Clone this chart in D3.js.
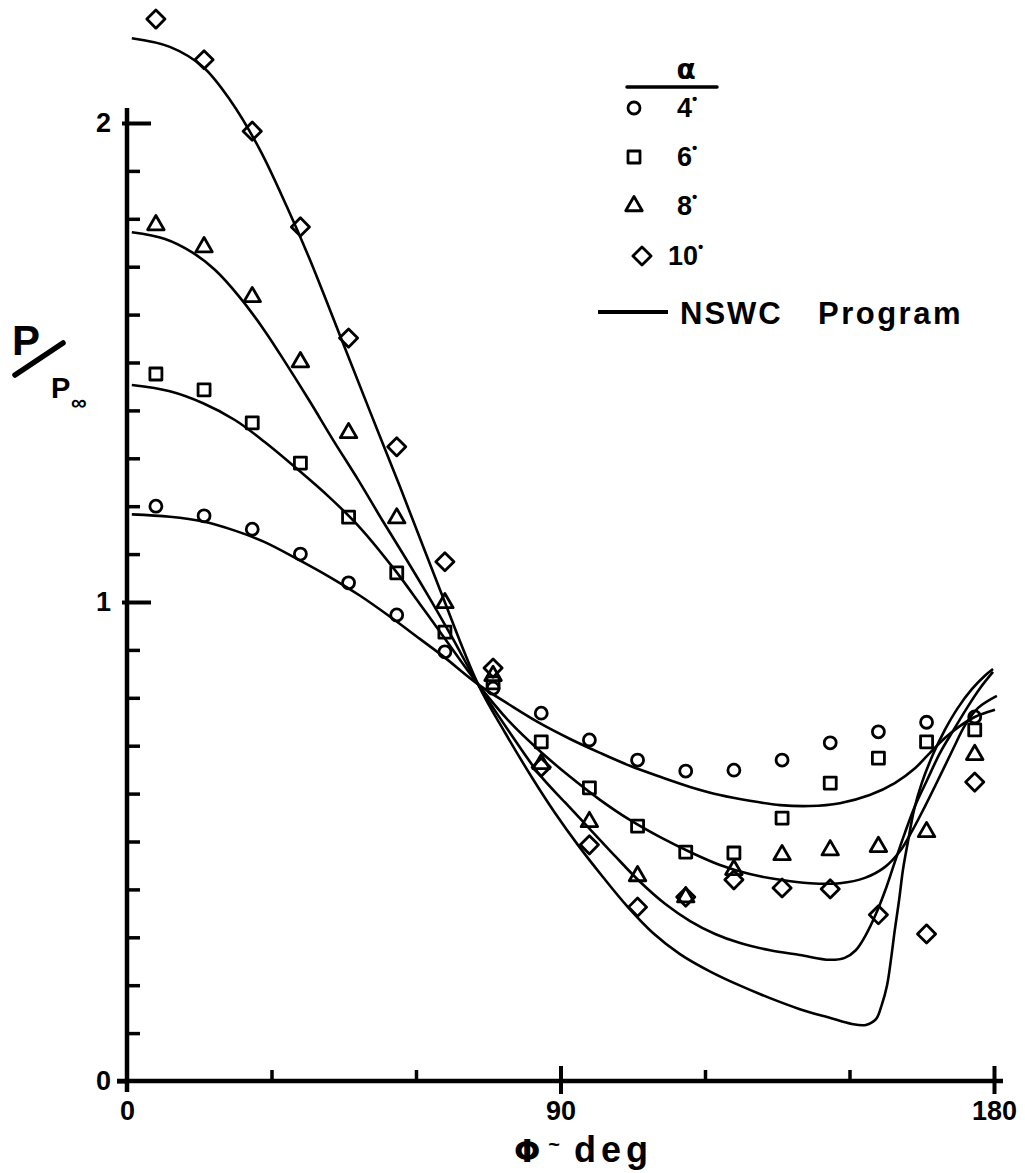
<!DOCTYPE html>
<html>
<head>
<meta charset="utf-8">
<script src="https://cdn.jsdelivr.net/npm/d3@7"></script>
<style>
  body { margin: 0; background: #fff; }
  svg { display: block; }
  text { font-family: "Liberation Sans", Arial, sans-serif; font-weight: bold; fill: #000; }
</style>
</head>
<body>
<div id="scene"></div>
<script>
// test points, p/p_inf vs phi (deg), one list per angle of attack
var phiPts = [6, 16, 26, 36, 46, 56, 66, 76, 86, 96, 106, 116, 126, 136, 146, 156, 166, 176];
var p4  = [1.200, 1.180, 1.152, 1.100, 1.040, 0.973, 0.896, 0.820, 0.768, 0.712, 0.670, 0.647, 0.649, 0.670, 0.706, 0.729, 0.749, 0.760];
var p6  = [1.476, 1.443, 1.374, 1.290, 1.177, 1.061, 0.937, 0.831, 0.708, 0.612, 0.532, 0.478, 0.476, 0.549, 0.622, 0.674, 0.708, 0.733];
var p8  = [1.787, 1.741, 1.637, 1.501, 1.353, 1.175, 0.998, 0.846, 0.662, 0.541, 0.428, 0.384, 0.441, 0.472, 0.482, 0.489, 0.520, 0.681];
var p10 = [2.217, 2.132, 1.983, 1.783, 1.551, 1.324, 1.084, 0.862, 0.655, 0.493, 0.363, 0.384, 0.420, 0.403, 0.401, 0.347, 0.307, 0.624];

// NSWC program curves
var curve4Phi = [1, 8.9, 15.8, 22.4, 28.6, 35.3, 42.1, 48.4, 55.2, 60.8, 65.6, 72.9, 79.5, 85.7, 92.0, 98.2, 104.4, 110.7, 116.9, 123.1, 129.3, 135.6, 141.8, 148.0, 154.2, 159.4, 163.6, 166.7, 169.8, 172.9, 176.0, 180.2];
var curve4P   = [1.183, 1.178, 1.168, 1.149, 1.125, 1.090, 1.052, 1.013, 0.965, 0.923, 0.887, 0.828, 0.785, 0.747, 0.714, 0.685, 0.658, 0.635, 0.614, 0.597, 0.585, 0.576, 0.574, 0.580, 0.597, 0.622, 0.653, 0.685, 0.716, 0.741, 0.760, 0.775];
var curve6Phi = [1, 8.9, 15.8, 22.4, 28.6, 35.3, 42.1, 48.4, 55.6, 60.8, 65.6, 72.9, 79.5, 85.7, 92.0, 98.2, 104.4, 110.7, 116.9, 123.1, 129.3, 135.6, 141.8, 148.0, 153.2, 157.4, 160.5, 163.0, 165.7, 168.8, 171.5, 174.0, 176.7, 180.6];
var curve6P   = [1.453, 1.440, 1.415, 1.380, 1.334, 1.278, 1.218, 1.155, 1.067, 0.996, 0.929, 0.828, 0.749, 0.689, 0.635, 0.587, 0.545, 0.509, 0.478, 0.451, 0.432, 0.420, 0.413, 0.413, 0.424, 0.447, 0.480, 0.522, 0.574, 0.637, 0.693, 0.743, 0.779, 0.804];
var curve8Phi = [1, 7.9, 13.7, 18.3, 23.5, 28.6, 33.2, 38.0, 42.8, 48.0, 53.1, 57.7, 62.3, 67.5, 72.9, 79.5, 85.7, 90.9, 96.1, 101.3, 106.5, 111.7, 116.9, 122.1, 127.3, 133.5, 139.7, 145.9, 149.0, 151.3, 153.4, 155.5, 157.6, 159.4, 161.5, 163.6, 166.1, 168.8, 171.5, 174.4, 177.1, 179.8];
var curve8P   = [1.772, 1.758, 1.729, 1.693, 1.635, 1.566, 1.495, 1.418, 1.338, 1.255, 1.169, 1.094, 1.017, 0.926, 0.828, 0.727, 0.639, 0.582, 0.526, 0.470, 0.416, 0.370, 0.334, 0.307, 0.288, 0.273, 0.263, 0.253, 0.257, 0.273, 0.305, 0.349, 0.403, 0.457, 0.518, 0.574, 0.628, 0.685, 0.731, 0.779, 0.820, 0.854];
var curve10Phi = [1, 8.9, 15.8, 21.4, 27.6, 33.2, 38.0, 44.2, 50.4, 56.7, 65.0, 72.9, 78.5, 84.3, 88.9, 93.6, 98.8, 104.0, 109.2, 114.8, 121.0, 127.3, 133.5, 139.7, 145.9, 150.5, 153.4, 155.5, 156.7, 157.8, 158.6, 159.4, 160.3, 161.1, 162.2, 163.4, 165.0, 167.3, 169.8, 172.5, 175.4, 178.1, 179.8];
var curve10P   = [2.177, 2.159, 2.117, 2.048, 1.944, 1.825, 1.714, 1.557, 1.399, 1.240, 1.025, 0.828, 0.727, 0.630, 0.559, 0.493, 0.426, 0.363, 0.309, 0.265, 0.229, 0.199, 0.173, 0.150, 0.132, 0.119, 0.117, 0.129, 0.159, 0.200, 0.253, 0.315, 0.378, 0.441, 0.503, 0.566, 0.622, 0.681, 0.733, 0.779, 0.818, 0.846, 0.860];

var alphaLabels = ["4", "6", "8", "10"];
var xMajorTicks = [0, 90, 180];
var xMinorTicks = [30, 60, 120, 150];
var yMajorTicks = [0, 1, 2];
var yMinorTicks = [0.1, 0.2, 0.3, 0.4, 0.5, 0.6, 0.7, 0.8, 0.9, 1.1, 1.2, 1.3, 1.4, 1.5, 1.6, 1.7, 1.8, 1.9];

var ctx = {
  w: 1025,
  h: 1173,
  x0: 127,
  x1: 994,
  y0: 1081,
  y1: 123,
};

var markerPath = function(shape) {
  switch(shape) {
    case "circle":
      return d3.symbol(d3.symbolCircle, Math.PI * 36)();
    case "square":
      return d3.symbol(d3.symbolSquare, 144)();
    case "triangle":
      return d3.symbol(d3.symbolTriangle, 118)();
    case "diamond":
      return d3.symbol(d3.symbolSquare, 165)();
  }
};

var markerRot = function(shape) {
  return shape == "diamond" ? " rotate(45)" : "";
};

var createScene = function() {
  var svg = d3.select("#scene").append("svg")
    .attr("width", ctx.w)
    .attr("height", ctx.h);

  var x = d3.scaleLinear().domain([0, 180]).range([ctx.x0, ctx.x1]);
  var y = d3.scaleLinear().domain([0, 2]).range([ctx.y0, ctx.y1]);

  var series = [
    {label: alphaLabels[0], phi: curve4Phi, p: curve4P, pts: p4, shape: "circle"},
    {label: alphaLabels[1], phi: curve6Phi, p: curve6P, pts: p6, shape: "square"},
    {label: alphaLabels[2], phi: curve8Phi, p: curve8P, pts: p8, shape: "triangle"},
    {label: alphaLabels[3], phi: curve10Phi, p: curve10P, pts: p10, shape: "diamond"},
  ];

  /******** axes ********/
  // y axis: minor ticks point inward, majors cross the line
  var gyMinor = svg.append("g")
    .attr("transform", "translate(" + x(0) + ",0)")
    .call(d3.axisLeft(y).tickValues(yMinorTicks).tickSize(-13).tickFormat(""));
  gyMinor.select(".domain").remove();
  gyMinor.selectAll(".tick line").attr("stroke-width", 3.5);

  var gyMajor = svg.append("g")
    .attr("transform", "translate(" + x(0) + ",0)")
    .call(d3.axisLeft(y).tickValues(yMajorTicks).tickSize(-24).tickPadding(16).tickFormat(d3.format("d")));
  gyMajor.select(".domain").remove();
  gyMajor.selectAll(".tick line")
    .attr("stroke-width", 4)
    .attr("x1", function(d) { return d == 0 ? -10 : -5; })
    .attr("x2", function(d) { return d == 0 ? 0 : 24; });
  gyMajor.selectAll(".tick text").style("font-size", "27px").style("font-family", "Liberation Sans");

  var gxMinor = svg.append("g")
    .attr("transform", "translate(0," + y(0) + ")")
    .call(d3.axisBottom(x).tickValues(xMinorTicks).tickSize(-11).tickFormat(""));
  gxMinor.select(".domain").remove();
  gxMinor.selectAll(".tick line").attr("stroke-width", 3.5);

  var gxMajor = svg.append("g")
    .attr("transform", "translate(0," + y(0) + ")")
    .call(d3.axisBottom(x).tickValues(xMajorTicks).tickSize(12).tickPadding(8).tickFormat(d3.format("d")));
  gxMajor.select(".domain").remove();
  gxMajor.selectAll(".tick line")
    .attr("stroke-width", 4)
    .attr("y1", function(d) { return d == 0 ? 0 : -15; })
    .attr("y2", function(d) { return d == 0 ? 0 : 13; });
  gxMajor.selectAll(".tick text").style("font-size", "27px").style("font-family", "Liberation Sans");

  // axis lines, a bit past the range like the drawing
  svg.append("line")
    .attr("x1", x(0)).attr("x2", x(0))
    .attr("y1", y(2) - 15).attr("y2", y(0) + 11)
    .attr("stroke", "#000").attr("stroke-width", 4.5);
  svg.append("line")
    .attr("x1", x(0) - 10).attr("x2", x(180) + 9)
    .attr("y1", y(0)).attr("y2", y(0))
    .attr("stroke", "#000").attr("stroke-width", 4.5);

  /******** curves ********/
  var line = d3.line()
    .x(function(d) { return x(d[0]); })
    .y(function(d) { return y(d[1]); })
    .curve(d3.curveCatmullRom.alpha(0.5));

  svg.append("g").selectAll("path")
    .data(series)
    .enter()
    .append("path")
    .attr("d", function(s) { return line(d3.zip(s.phi, s.p)); })
    .attr("fill", "none")
    .attr("stroke", "#000")
    .attr("stroke-width", 2.6)
    .attr("stroke-linejoin", "round");

  /******** test points ********/
  series.forEach(function(s) {
    svg.append("g").selectAll("path")
      .data(d3.zip(phiPts, s.pts))
      .enter()
      .append("path")
      .attr("d", markerPath(s.shape))
      .attr("transform", function(d) { return "translate(" + x(d[0]) + "," + y(d[1]) + ")" + markerRot(s.shape); })
      .attr("fill", "none")
      .attr("stroke", "#000")
      .attr("stroke-width", 2.8)
      .attr("stroke-linejoin", "round");
  });

  /******** legend ********/
  var leg = svg.append("g");
  leg.append("text")
    .attr("x", 686).attr("y", 79)
    .attr("text-anchor", "middle")
    .style("font-family", "DejaVu Sans")
    .style("font-size", "28px")
    .text("α");
  leg.append("line")
    .attr("x1", 627).attr("x2", 717)
    .attr("y1", 87).attr("y2", 87)
    .attr("stroke", "#000").attr("stroke-width", 3.5)
    .attr("stroke-linecap", "round");

  var rowY = [108, 157, 206, 256];
  var markX = [634, 634, 634, 642];
  var textX = [677, 677, 677, 668];
  series.forEach(function(s, i) {
    leg.append("path")
      .attr("d", markerPath(s.shape))
      .attr("transform", "translate(" + markX[i] + "," + rowY[i] + ")" + markerRot(s.shape))
      .attr("fill", "none")
      .attr("stroke", "#000")
      .attr("stroke-width", 2.8)
      .attr("stroke-linejoin", "round");
    var t = leg.append("text")
      .attr("x", textX[i]).attr("y", rowY[i] + 9)
      .style("font-size", "27px");
    t.append("tspan").text(s.label);
    t.append("tspan").attr("dy", -13).style("font-size", "15px").text("•");
  });

  leg.append("line")
    .attr("x1", 598).attr("x2", 668)
    .attr("y1", 312).attr("y2", 312)
    .attr("stroke", "#000").attr("stroke-width", 4);
  leg.append("text")
    .attr("x", 680).attr("y", 324)
    .style("font-size", "31px")
    .style("letter-spacing", "2px")
    .text("NSWC");
  leg.append("text")
    .attr("x", 818).attr("y", 324)
    .style("font-size", "31px")
    .style("letter-spacing", "2.5px")
    .text("Program");

  /******** axis titles ********/
  svg.append("text")
    .attr("x", 12).attr("y", 355)
    .style("font-size", "42px")
    .text("P");
  svg.append("line")
    .attr("x1", 15).attr("y1", 375)
    .attr("x2", 63).attr("y2", 343)
    .attr("stroke", "#000").attr("stroke-width", 5.5)
    .attr("stroke-linecap", "round");
  svg.append("text")
    .attr("x", 51).attr("y", 398)
    .style("font-size", "29px")
    .text("P");
  svg.append("text")
    .attr("x", 71).attr("y", 410)
    .style("font-size", "22px")
    .text("∞");

  var xt = svg.append("text")
    .attr("x", 514).attr("y", 1162);
  xt.append("tspan").style("font-size", "31px").style("font-family", "DejaVu Sans").text("Φ");
  xt.append("tspan").attr("dx", 8).attr("dy", -11).style("font-size", "20px").text("~");
  xt.append("tspan").attr("dx", 14).attr("dy", 11).style("font-size", "36px").style("letter-spacing", "5px").text("deg");
};

createScene();
</script>
</body>
</html>
